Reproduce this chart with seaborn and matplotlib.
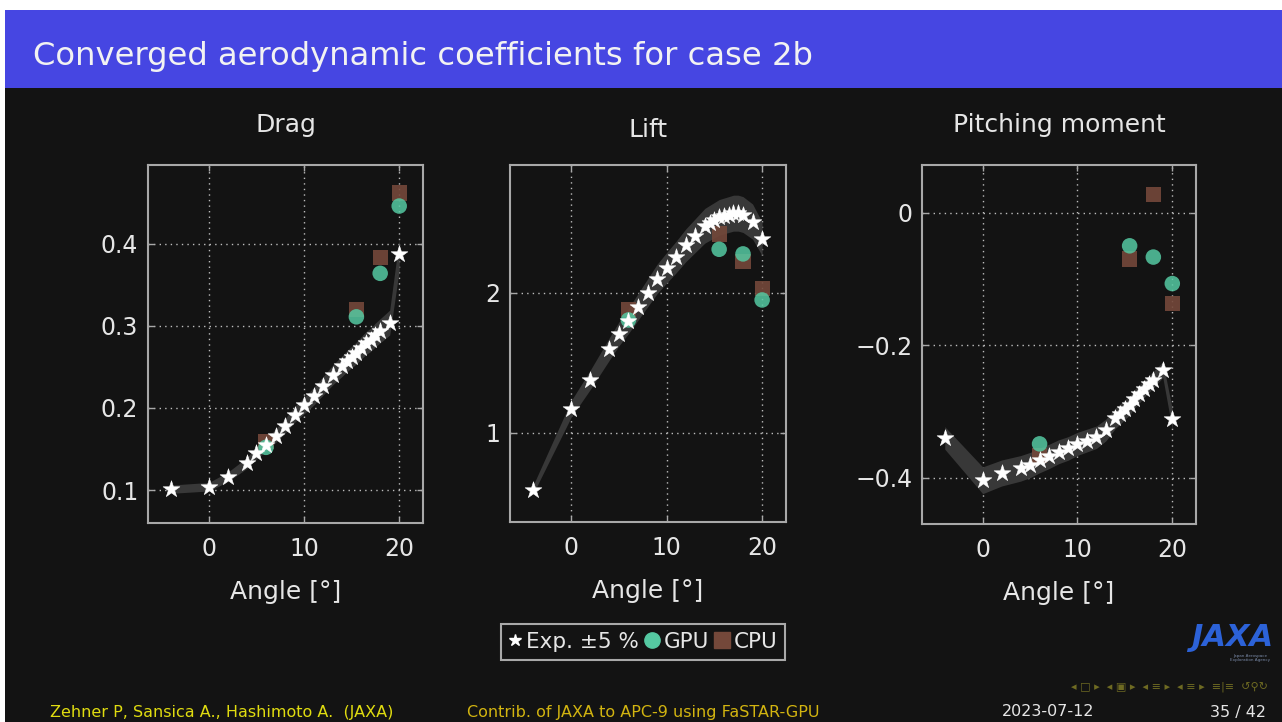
import numpy as np
import pandas as pd
import matplotlib
matplotlib.use("Agg")
import matplotlib.pyplot as plt
import seaborn as sns
from matplotlib.lines import Line2D
from matplotlib.patches import Rectangle

# ---------------- data ----------------
angles_exp = [-4, 0, 2, 4, 5, 6, 7, 8, 9, 10, 11, 12, 13, 14, 14.5, 15, 15.5,
              16, 16.5, 17, 17.5, 18, 19, 20]
cd_exp = [0.101, 0.104, 0.116, 0.133, 0.145, 0.155, 0.166, 0.178, 0.192, 0.203,
          0.214, 0.227, 0.240, 0.251, 0.257, 0.262, 0.267, 0.273, 0.279, 0.283,
          0.289, 0.294, 0.304, 0.387]
cl_exp = [0.593, 1.171, 1.379, 1.600, 1.707, 1.800, 1.900, 2.000, 2.100, 2.180,
          2.257, 2.340, 2.410, 2.480, 2.500, 2.520, 2.540, 2.550, 2.560, 2.570,
          2.570, 2.560, 2.510, 2.386]
cm_exp = [-0.340, -0.404, -0.393, -0.386, -0.381, -0.374, -0.368, -0.361, -0.356,
          -0.349, -0.344, -0.339, -0.328, -0.310, -0.304, -0.297, -0.291, -0.281,
          -0.274, -0.266, -0.259, -0.252, -0.237, -0.312]

angles_sim = [6, 15.5, 18, 20]
cd_gpu = [0.152, 0.311, 0.364, 0.446]
cd_cpu = [0.159, 0.320, 0.383, 0.462]
cl_gpu = [1.807, 2.312, 2.279, 1.950]
cl_cpu = [1.884, 2.421, 2.224, 2.034]
cm_gpu = [-0.349, -0.050, -0.067, -0.107]
cm_cpu = [-0.366, -0.070, 0.027, -0.137]

panel_titles = ["Drag", "Lift", "Pitching moment"]
xlabel = "Angle [°]"
xticks = [0, 10, 20]
yticks_list = [[0.1, 0.2, 0.3, 0.4], [1, 2], [-0.4, -0.2, 0]]
ylims = [(0.0598, 0.496), (0.364, 2.914), (-0.47, 0.072)]
legend_labels = ["Exp. ±5 %", "GPU", "CPU"]

# ---------------- style ----------------
BG = "#131313"
GRID = "#bdbdbd"
SPINE = "#a8a8a8"
TXT = "#e6e6e6"
BAND = "#383838"
GPU_C = "#55c9a2"
CPU_C = "#74483a"

sns.set_theme(style="dark")
plt.rcParams["font.family"] = ["DejaVu Sans"]
plt.rcParams["axes.unicode_minus"] = True

fig = plt.figure(figsize=(12.82, 7.22), dpi=100, facecolor="white")

# dark slide background and title bar (drawn below the axes)
fig.patches.append(Rectangle((5 / 1282, 0), 1 - 5 / 1282, 1 - 10 / 722,
                             transform=fig.transFigure, facecolor=BG,
                             edgecolor="none", zorder=-10))
fig.patches.append(Rectangle((5 / 1282, 1 - 88 / 722), 1 - 5 / 1282, 78 / 722,
                             transform=fig.transFigure, facecolor="#4646e2",
                             edgecolor="none", zorder=-9))
fig.text(33 / 1282, 1 - 56 / 722, "Converged aerodynamic coefficients for case 2b",
         color="#f2f2f2", fontsize=23.2, va="center", ha="left", zorder=2)

positions = [
    [148 / 1282, (722 - 523) / 722, 275 / 1282, 358 / 722],
    [510 / 1282, (722 - 522) / 722, 276 / 1282, 357 / 722],
    [922 / 1282, (722 - 524) / 722, 274 / 1282, 359 / 722],
]
exp_sets = [cd_exp, cl_exp, cm_exp]
gpu_sets = [cd_gpu, cl_gpu, cm_gpu]
cpu_sets = [cd_cpu, cl_cpu, cm_cpu]

for i in range(3):
    ax = fig.add_axes(positions[i])
    ax.set_zorder(1)
    ax.set_facecolor(BG)
    exp = np.array(exp_sets[i])
    ang = np.array(angles_exp)
    lo = np.minimum(exp * 0.95, exp * 1.05)
    hi = np.maximum(exp * 0.95, exp * 1.05)
    ax.fill_between(ang, lo, hi, color=BAND, linewidth=0, zorder=2)

    df_exp = pd.DataFrame({"angle": angles_exp, "value": exp_sets[i]})
    df_sim = pd.DataFrame({"angle": angles_sim, "gpu": gpu_sets[i], "cpu": cpu_sets[i]})
    sns.scatterplot(data=df_exp, x="angle", y="value", marker="*", s=160,
                    color="white", edgecolor="white", linewidth=0.4, ax=ax,
                    zorder=5, legend=False)
    sns.scatterplot(data=df_sim, x="angle", y="cpu", marker="s", s=120,
                    color=CPU_C, edgecolor="none", alpha=0.9, ax=ax, zorder=3,
                    legend=False)
    sns.scatterplot(data=df_sim, x="angle", y="gpu", marker="o", s=125,
                    color=GPU_C, edgecolor="none", alpha=0.85, ax=ax, zorder=4,
                    legend=False)

    ax.set_xlim(-6.4, 22.5)
    ax.set_ylim(*ylims[i])
    ax.set_xticks(xticks)
    ax.set_yticks(yticks_list[i])
    if i == 1:
        ax.set_yticklabels(["1", "2"])
    elif i == 2:
        ax.set_yticklabels(["\u22120.4", "\u22120.2", "0"])
    ax.grid(True, color=GRID, linestyle=(0, (1, 3)), linewidth=1.0, zorder=1)
    ax.set_axisbelow(True)
    for sp in ax.spines.values():
        sp.set_visible(True)
        sp.set_color(SPINE)
        sp.set_linewidth(1.5)
    ax.tick_params(direction="in", length=4, width=1, color=SPINE,
                   labelcolor=TXT, labelsize=17, top=True, right=True,
                   bottom=True, left=True)
    ax.tick_params(axis="x", pad=10)
    ax.tick_params(axis="y", pad=7)
    ax.set_xlabel(xlabel, color=TXT, fontsize=18, labelpad=14)
    ax.set_ylabel("")
    ax.set_title(panel_titles[i], color=TXT, fontsize=18, pad=24 if i != 1 else 20)

# legend
handles = [
    Line2D([], [], marker="*", linestyle="none", color="white", markersize=9),
    Line2D([], [], marker="o", linestyle="none", color=GPU_C, markersize=11),
    Line2D([], [], marker="s", linestyle="none", color=CPU_C, markersize=11),
]
leg = fig.legend(handles, legend_labels, loc="center", ncol=3,
                 bbox_to_anchor=(643 / 1282, 1 - 642 / 722), frameon=True,
                 fontsize=15.5, handlelength=0.6, handletextpad=0.25,
                 columnspacing=0.3, borderpad=0.35, fancybox=False)
leg.get_frame().set_facecolor(BG)
leg.get_frame().set_edgecolor("#d0d0d0")
leg.get_frame().set_linewidth(1.5)
for t in leg.get_texts():
    t.set_color(TXT)

# JAXA logo (text approximation)
fig.text(1232 / 1282, 1 - 638 / 722, "JAXA", color="#2c62d8", fontsize=22,
         fontweight="bold", fontstyle="italic", ha="center", va="center")
fig.text(1250 / 1282, 1 - 658 / 722, "Japan Aerospace\nExploration Agency",
         color="#7a8aa8", fontsize=3, ha="center", va="center")

# navigation symbols
fig.text(1268 / 1282, 1 - 687 / 722,
         "\u25c2 \u25a1 \u25b8  \u25c2 \u25a3 \u25b8  \u25c2 \u2261 \u25b8  \u25c2 \u2261 \u25b8  \u2261|\u2261  \u21ba\u26b2\u21bb",
         color="#6e6a22", fontsize=8, ha="right", va="center")

# footer
fig.text(50 / 1282, 1 - 712 / 722, "Zehner P, Sansica A., Hashimoto A.  (JAXA)",
         color="#e0dc10", fontsize=11.5, ha="left", va="center")
fig.text(643 / 1282, 1 - 712 / 722, "Contrib. of JAXA to APC-9 using FaSTAR-GPU",
         color="#d2b410", fontsize=11.5, ha="center", va="center")
fig.text(1048 / 1282, 1 - 712 / 722, "2023-07-12", color="#e6e6e6",
         fontsize=11.5, ha="center", va="center")
fig.text(1266 / 1282, 1 - 712 / 722, "35 / 42", color="#e6e6e6",
         fontsize=11.5, ha="right", va="center")

fig.savefig("out.png", dpi=100, facecolor=fig.get_facecolor())
